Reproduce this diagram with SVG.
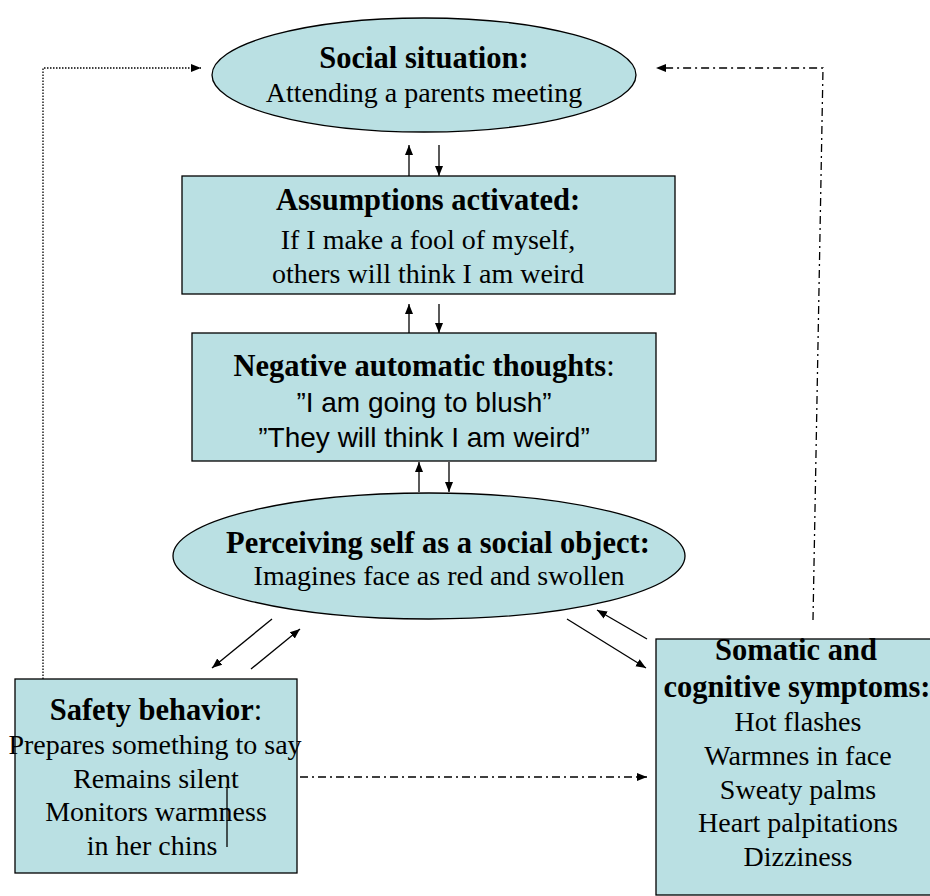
<svg xmlns="http://www.w3.org/2000/svg" width="930" height="896" viewBox="0 0 930 896">
<style>
.n{fill:#bae0e3;stroke:#000;stroke-width:1.3}
.b{font-family:"Liberation Serif",serif;font-weight:bold;font-size:30.5px;text-anchor:middle;fill:#000}
.r{font-family:"Liberation Serif",serif;font-size:28px;text-anchor:middle;fill:#000}
.s{font-family:"Liberation Sans",sans-serif;font-size:28px;text-anchor:middle;fill:#000}
.c{fill:none;stroke:#000;stroke-width:1.3}
.dot{stroke-dasharray:1.5 1.5}
.dd{stroke-dasharray:8 4 2 4}
</style>
<defs>
<marker id="ah" viewBox="0 0 10 10" refX="10" refY="5" markerWidth="10" markerHeight="10" markerUnits="userSpaceOnUse" orient="auto">
<path d="M0,1 L10,5 L0,9 z" fill="#000"/>
</marker>
</defs>
<g id="social-situation">
<ellipse class="n" cx="424" cy="75" rx="212" ry="57"/>
<text class="b" x="424" y="68">Social situation:</text>
<text class="r" x="424" y="102">Attending a parents meeting</text>
</g>
<g id="assumptions">
<rect class="n" x="182" y="176" width="493" height="118"/>
<text class="b" x="428" y="210">Assumptions activated:</text>
<text class="r" x="428" y="249">If I make a fool of myself,</text>
<text class="r" x="428" y="283">others will think I am weird</text>
</g>
<g id="negative-thoughts">
<rect class="n" x="192" y="333" width="464" height="128"/>
<text class="b" x="424" y="376">Negative automatic thoughts<tspan font-weight="normal">:</tspan></text>
<text class="s" x="424" y="412">”I am going to blush”</text>
<text class="s" x="424" y="447">”They will think I am weird”</text>
</g>
<g id="perceiving-self">
<ellipse class="n" cx="429" cy="556" rx="256" ry="63"/>
<text class="b" x="438" y="553">Perceiving self as a social object:</text>
<text class="r" x="439" y="585">Imagines face as red and swollen</text>
</g>
<g id="safety-behavior">
<rect class="n" x="15" y="679" width="282" height="194"/>
<text class="b" x="156" y="720">Safety behavior<tspan font-weight="normal">:</tspan></text>
<text class="r" x="155" y="754">Prepares something to say</text>
<text class="r" x="156" y="788">Remains silent</text>
<text class="r" x="156" y="821">Monitors warmness</text>
<text class="r" x="152" y="855">in her chins</text>
<line x1="227" y1="787" x2="227" y2="847" stroke="#000" stroke-width="1.3"/>
</g>
<g id="symptoms">
<rect class="n" x="656" y="639" width="290" height="256"/>
<text class="b" x="796" y="660">Somatic and</text>
<text class="b" x="797" y="697">cognitive symptoms:</text>
<text class="r" x="798" y="731">Hot flashes</text>
<text class="r" x="798" y="765">Warmnes in face</text>
<text class="r" x="798" y="799">Sweaty palms</text>
<text class="r" x="798" y="832">Heart palpitations</text>
<text class="r" x="798" y="866">Dizziness</text>
</g>
<g id="connectors">
<line class="c" x1="409" y1="176" x2="409" y2="145" marker-end="url(#ah)"/>
<line class="c" x1="439" y1="145" x2="439" y2="176" marker-end="url(#ah)"/>
<line class="c" x1="409" y1="333" x2="409" y2="304" marker-end="url(#ah)"/>
<line class="c" x1="439" y1="304" x2="439" y2="333" marker-end="url(#ah)"/>
<line class="c" x1="419" y1="492" x2="419" y2="462" marker-end="url(#ah)"/>
<line class="c" x1="449" y1="462" x2="449" y2="492" marker-end="url(#ah)"/>
<line class="c" x1="272" y1="619" x2="212" y2="668" marker-end="url(#ah)"/>
<line class="c" x1="251" y1="669" x2="300" y2="629" marker-end="url(#ah)"/>
<line class="c" x1="567" y1="619" x2="646" y2="668" marker-end="url(#ah)"/>
<line class="c" x1="647" y1="639" x2="597" y2="610" marker-end="url(#ah)"/>
<polyline class="c dot" points="43,679 43,68 201,68" marker-end="url(#ah)"/>
<polyline class="c dd" points="813,620 823,68 656,68" marker-end="url(#ah)"/>
<line class="c dd" x1="300" y1="777" x2="647" y2="777" marker-end="url(#ah)"/>
</g>
</svg>
